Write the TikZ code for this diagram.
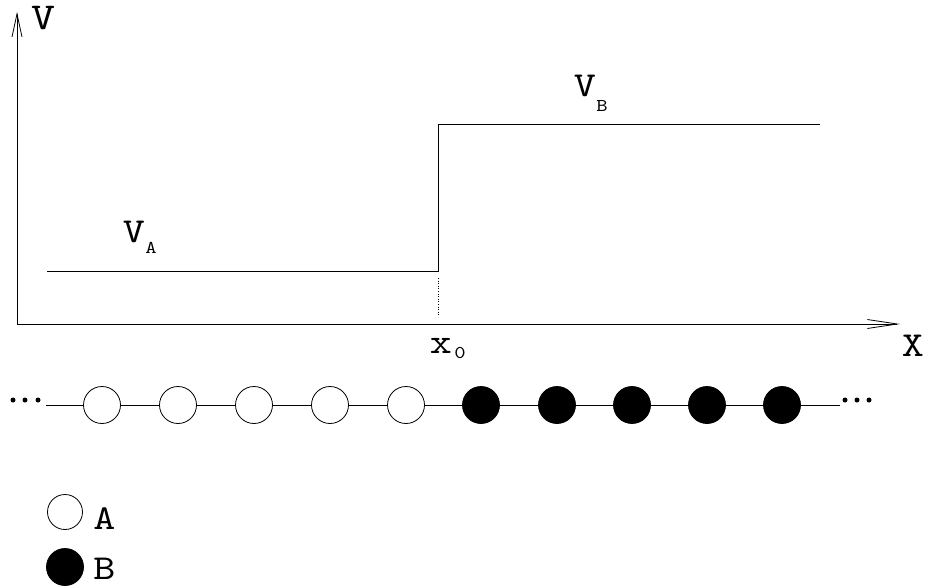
\documentclass[tikz,border=0pt]{standalone}
\usepackage{fontspec}
\newfontfamily\cour{lmmono10-regular.otf}[FakeStretch=1.2]
\usetikzlibrary{arrows.meta}
\begin{document}
\begin{tikzpicture}[x=1pt,y=-1pt,line width=0.8pt,
  big/.style={font=\cour\fontsize{35}{35}\selectfont,inner sep=0pt},
  small/.style={font=\cour\fontsize{18}{18}\selectfont,inner sep=0pt},
  atom/.style={circle,draw,line width=0.8pt,minimum size=37pt,inner sep=0pt},
  atomA/.style={atom,fill=white},
  atomB/.style={atom,fill=black},
  dotc/.style={circle,fill=black,minimum size=5pt,inner sep=0pt}]
\useasboundingbox (0,0) rectangle (927,587);
% axes
\coordinate (O) at (17,324);
\coordinate (Vtip) at (17,12);
\coordinate (Xtip) at (900,324);
\draw[-{Straight Barb[length=23pt,width=10pt,line width=0.8pt]}] (O) -- (Vtip);
\draw[-{Straight Barb[length=30pt,width=9pt,line width=0.8pt]}] (O) -- (Xtip);
\node[big,font=\cour\fontsize{38}{38}\selectfont] (Vlab) at (43,18) {V};
\node[big] (Xlab) at (913,346) {X};
% potential step
\coordinate (s0) at (47,271);
\coordinate (s1) at (438,271);
\coordinate (s2) at (438,124);
\coordinate (s3) at (820,124);
\draw (s0) -- (s1) -- (s2) -- (s3);
\coordinate (d0) at (438,278);
\coordinate (d1) at (438,317);
\draw[dotted,line width=0.6pt] (d0) -- (d1);
\node[big] (VA) at (134,232) {V};
\node[small] (VAsub) at (151,248) {A};
\node[big] (VB) at (585,86) {V};
\node[small] (VBsub) at (602,106) {B};
\node[big] (x0) at (441,346) {x};
\node[small] (x0sub) at (460,353) {0};
% chain
\foreach \i/\x in {1/102,2/178,3/254,4/330,5/406}
  \node[atomA] (a\i) at (\x,405) {};
\foreach \i/\x in {1/481,2/557,3/632,4/707,5/782}
  \node[atomB] (b\i) at (\x,405) {};
\coordinate (lend) at (46,405);
\coordinate (rend) at (840,405);
\draw (lend) -- (a1) -- (a2) -- (a3) -- (a4) -- (a5) -- (b1) -- (b2) -- (b3) -- (b4) -- (b5) -- (rend);
\foreach \x [count=\k] in {13,25,38}
  \node[dotc] (ld\k) at (\x,400) {};
\foreach \x [count=\k] in {845,857,869}
  \node[dotc] (rd\k) at (\x,400) {};
% legend
\node[atomA,minimum size=35pt] (legA) at (65,512) {};
\node[atomB] (legB) at (65,567) {};
\node[big,anchor=west] (legAt) at (93,519) {A};
\node[big,anchor=west] (legBt) at (93,569) {B};
\end{tikzpicture}
\end{document}
